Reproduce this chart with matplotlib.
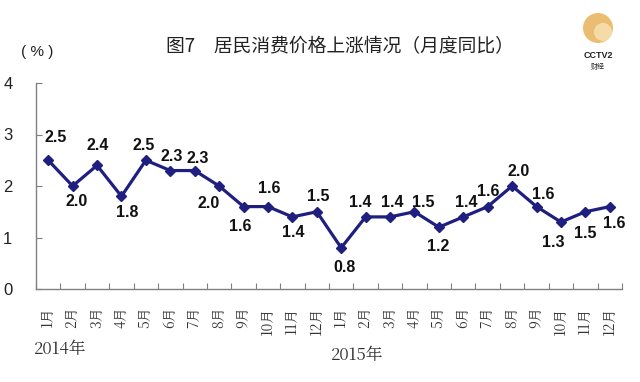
import matplotlib
matplotlib.use("Agg")
import matplotlib.pyplot as plt
import numpy as np
from matplotlib.patches import Circle

plt.rcParams['font.family'] = ['Noto Sans CJK SC', 'DejaVu Sans']

months = ["1月", "2月", "3月", "4月", "5月", "6月", "7月", "8月", "9月", "10月", "11月", "12月"] * 2
values = [2.5, 2.0, 2.4, 1.8, 2.5, 2.3, 2.3, 2.0, 1.6, 1.6, 1.4, 1.5,
          0.8, 1.4, 1.4, 1.5, 1.2, 1.4, 1.6, 2.0, 1.6, 1.3, 1.5, 1.6]
year_labels = ["2014年", "2015年"]
title = "图7　居民消费价格上涨情况（月度同比）"
yticks = [0, 1, 2, 3, 4]

# label offsets in pixels (style): (dx, dy), dy > 0 above the point
label_dx = [7, 4, 1, 6, -2, 1, 3, -10, -3, 1, 1, 1,
            3, -5, 2, 9, -1, 3, 1, 6, 7, -8, 0, 4]
label_dy = [23, -16, 20, -16, 15, 14, 12, -17, -20, 18, -16, 15,
            -20, 14, 14, 9, -19, 14, 15, 15, 12, -20, -22, -17]

serif = ["Noto Serif CJK SC", "Noto Sans CJK SC", "DejaVu Sans"]
arial = ["Liberation Sans", "DejaVu Sans"]

fig = plt.figure(figsize=(6.4, 3.82), dpi=100)
ax = fig.add_axes([36/640, 93/382, 586/640, 206/382])

x = np.arange(len(values))
col = "#1f1f80"
ax.plot(x, values, color=col, lw=2.3, marker="D", ms=5.5, mfc=col, mec=col, zorder=3)

for xi, v, dx, dy in zip(x, values, label_dx, label_dy):
    ax.annotate(f"{v:.1f}", (xi, v), xytext=(dx, dy), textcoords="offset pixels",
                ha="center", va="center", fontsize=11.5, fontweight="bold",
                family=arial, color="#111111")

ax.set_xlim(-0.5, len(values) - 0.5)
ax.set_ylim(0, 4)
ax.set_yticks(yticks)
ax.set_yticklabels([str(t) for t in yticks], family=arial, fontsize=12, color="#222222")
ax.tick_params(axis="y", direction="in", length=4, color="#808080", pad=17)

ax.set_xticks(np.arange(-0.5, len(values), 1.0))
ax.set_xticklabels([])
ax.tick_params(axis="x", direction="in", length=4, color="#808080")
for xi, m in zip(x, months):
    ax.text(xi, -0.085, m, transform=ax.get_xaxis_transform(), rotation=90,
            ha="center", va="top", fontsize=10, color="#333333", family=serif)

for s in ["top", "right"]:
    ax.spines[s].set_visible(False)
for s in ["left", "bottom"]:
    ax.spines[s].set_color("#808080")
    ax.spines[s].set_linewidth(1)

fig.text(60/640, 1 - 349/382, year_labels[0], ha="center", va="center", fontsize=12,
         color="#333333", family=serif)
fig.text(357/640, 1 - 355/382, year_labels[1], ha="center", va="center", fontsize=12,
         color="#333333", family=serif)

fig.text(340/640, 1 - 47/382, title, ha="center", va="center", fontsize=13.5, color="#222222")
fig.text(37/640, 1 - 52/382, "( % )", ha="center", va="center", fontsize=11, color="#222222",
         family=arial)

# logo approximation
lax = fig.add_axes([578/640, 1 - 48/382, 40/640, 40/382])
lax.set_aspect("equal")
lax.set_xlim(-1, 1)
lax.set_ylim(-1, 1)
lax.axis("off")
lax.add_patch(Circle((0, 0), 0.75, facecolor="#e8b25a", edgecolor="none", alpha=0.85))
lax.add_patch(Circle((0.25, -0.2), 0.45, facecolor="#f6dfae", edgecolor="none", alpha=0.9))
fig.text(598/640, 1 - 56/382, "CCTV2", ha="center", va="center", fontsize=6.5,
         fontweight="bold", color="#222222", family=arial)
fig.text(598/640, 1 - 67/382, "财经", ha="center", va="center", fontsize=5, color="#222222")

fig.savefig("out.png", dpi=100)
